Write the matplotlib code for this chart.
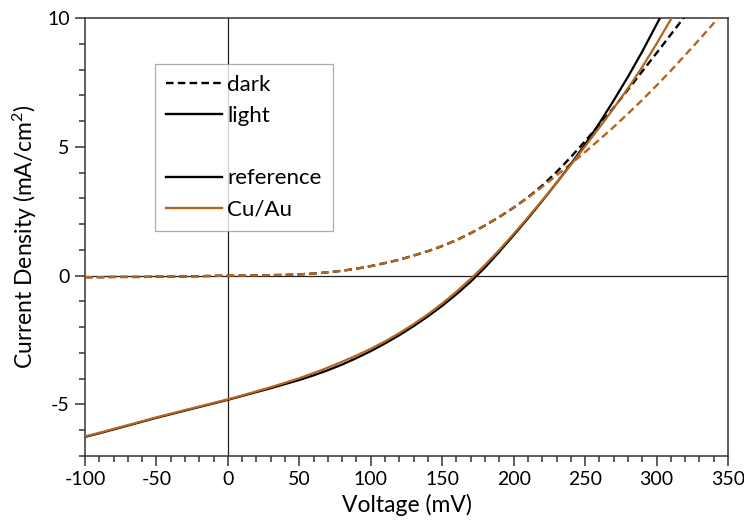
import numpy as np
import matplotlib
matplotlib.use("Agg")
import matplotlib.pyplot as plt
from matplotlib.lines import Line2D
from matplotlib.ticker import MultipleLocator

plt.rcParams["font.family"] = ["Lato", "DejaVu Sans"]
plt.rcParams["mathtext.fontset"] = "custom"
plt.rcParams["mathtext.rm"] = "Lato"
plt.rcParams["mathtext.it"] = "Lato:italic"
plt.rcParams["axes.unicode_minus"] = False

# Voltage grid (mV)
v_ref = list(range(-100, 311, 10))
v_cu = list(range(-100, 321, 10))
v_dark_ref = list(range(-100, 321, 10))
v_dark_cu = list(range(-100, 351, 10))

# Current density under illumination (mA/cm^2)
j_light_ref = [-6.26, -6.12, -5.97, -5.82, -5.67, -5.52, -5.38, -5.24, -5.10, -4.96,
               -4.82, -4.67, -4.52, -4.37, -4.21, -4.05, -3.87, -3.67, -3.45, -3.20,
               -2.93, -2.63, -2.31, -1.96, -1.58, -1.17, -0.72, -0.23, 0.32, 0.93,
               1.57, 2.22, 2.90, 3.60, 4.33, 5.10, 5.92, 6.80, 7.72, 8.70,
               9.75, 10.80]
j_light_cu = [-6.24, -6.10, -5.95, -5.80, -5.65, -5.50, -5.36, -5.22, -5.08, -4.94,
              -4.80, -4.65, -4.49, -4.33, -4.16, -3.98, -3.78, -3.57, -3.34, -3.10,
              -2.84, -2.55, -2.23, -1.88, -1.50, -1.08, -0.62, -0.12, 0.42, 1.00,
              1.62, 2.26, 2.92, 3.60, 4.30, 5.02, 5.75, 6.50, 7.27, 8.10,
              9.00, 9.95, 10.90]

# Current density in the dark (mA/cm^2)
j_dark_ref = [-0.06, -0.06, -0.05, -0.05, -0.05, -0.04, -0.04, -0.03, -0.02, -0.01,
              0.00, 0.00, 0.01, 0.02, 0.03, 0.05, 0.08, 0.13, 0.19, 0.27,
              0.37, 0.49, 0.62, 0.78, 0.95, 1.15, 1.38, 1.65, 1.95, 2.28,
              2.64, 3.04, 3.50, 4.02, 4.60, 5.22, 5.86, 6.52, 7.22, 7.93,
              8.64, 9.36, 10.08]
j_dark_cu = [-0.06, -0.06, -0.05, -0.05, -0.05, -0.04, -0.04, -0.03, -0.02, -0.01,
             0.00, 0.00, 0.01, 0.02, 0.03, 0.05, 0.08, 0.13, 0.19, 0.27,
             0.37, 0.49, 0.62, 0.78, 0.95, 1.15, 1.38, 1.65, 1.95, 2.28,
             2.64, 3.03, 3.45, 3.89, 4.34, 4.80, 5.28, 5.77, 6.29, 6.82,
             7.38, 7.96, 8.56, 9.17, 9.80, 10.45]

BLACK = "#000000"
BROWN = "#B5651D"
DASH = (3.2, 1.8)

fig = plt.figure(figsize=(7.44, 5.24), dpi=100)
ax = fig.add_axes([0.1142, 0.1298, 0.8643, 0.8358])

ax.axhline(0, color="#222222", lw=0.9, zorder=1)
ax.axvline(0, color="#222222", lw=0.9, zorder=1)

ax.plot(v_dark_ref, j_dark_ref, color=BLACK, lw=1.7, ls=(0, DASH), zorder=3)
ax.plot(v_dark_cu, j_dark_cu, color=BROWN, lw=1.7, ls=(0, DASH), zorder=3)
ax.plot(v_ref, j_light_ref, color=BLACK, lw=1.6, zorder=4)
ax.plot(v_cu, j_light_cu, color=BROWN, lw=1.6, zorder=4)

ax.set_xlim(-100, 350)
ax.set_ylim(-7, 10)
ax.xaxis.set_major_locator(MultipleLocator(50))
ax.xaxis.set_minor_locator(MultipleLocator(10))
ax.yaxis.set_major_locator(MultipleLocator(5))
ax.yaxis.set_minor_locator(MultipleLocator(1))

for side in ["left", "bottom", "right", "top"]:
    ax.spines[side].set_color("#333333")
    ax.spines[side].set_linewidth(1.1)

ax.tick_params(which="both", direction="out", top=False, right=False,
               color="#333333", width=1.1, labelsize=14)
ax.tick_params(which="major", length=7, pad=4)
ax.tick_params(which="minor", length=4)

ax.set_xlabel("Voltage (mV)", fontsize=16.5, labelpad=4)
ax.set_ylabel("Current Density (mA/cm$^2$)", fontsize=16.5, labelpad=6)

handles = [
    Line2D([], [], color=BLACK, lw=1.7, ls=(0, DASH)),
    Line2D([], [], color=BLACK, lw=1.7),
    Line2D([], [], color="none"),
    Line2D([], [], color=BLACK, lw=1.7),
    Line2D([], [], color=BROWN, lw=1.7),
]
labels = ["dark", "light", " ", "reference", "Cu/Au"]
leg = ax.legend(handles, labels, loc="upper left", bbox_to_anchor=(0.109, 0.895),
                borderaxespad=0, frameon=True, fancybox=False, fontsize=16,
                handlelength=2.5, handletextpad=0.25, labelspacing=0.5,
                borderpad=0.5)
leg.get_frame().set_edgecolor("#999999")
leg.get_frame().set_linewidth(0.9)

fig.savefig("out.png", dpi=100)
